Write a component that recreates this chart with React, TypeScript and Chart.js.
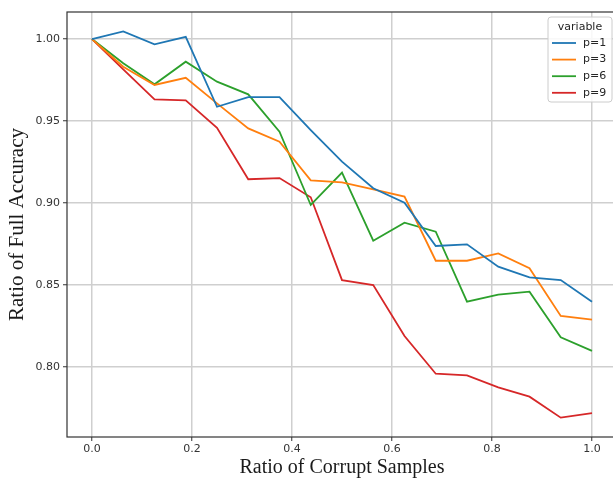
import React, { useEffect, useRef } from "react";
import { Chart, registerables } from "chart.js";

Chart.register(...registerables);

const xValues = [0, 0.0625, 0.125, 0.1875, 0.25, 0.3125, 0.375, 0.4375, 0.5, 0.5625, 0.625, 0.6875, 0.75, 0.8125, 0.875, 0.9375, 1.0];
const p1 = [1.0, 1.0047, 0.9968, 1.0014, 0.9587, 0.9646, 0.9646, 0.9445, 0.9252, 0.909, 0.9002, 0.8738, 0.8748, 0.8612, 0.8547, 0.853, 0.8398];
const p3 = [1.0, 0.9831, 0.972, 0.9764, 0.9608, 0.9455, 0.9374, 0.9138, 0.9126, 0.9083, 0.9039, 0.8648, 0.8648, 0.8693, 0.8602, 0.8311, 0.8289];
const p6 = [1.0, 0.9852, 0.9724, 0.9862, 0.974, 0.9663, 0.9435, 0.8988, 0.9185, 0.877, 0.888, 0.8825, 0.8398, 0.8441, 0.8459, 0.8181, 0.8098];
const p9 = [1.0, 0.9815, 0.9632, 0.9626, 0.9459, 0.9145, 0.9152, 0.9035, 0.853, 0.85, 0.8189, 0.7959, 0.7949, 0.7876, 0.7819, 0.7691, 0.7718];
const seriesLabels = ["p=1", "p=3", "p=6", "p=9"];
const seriesColors = ["#1f77b4", "#ff7f0e", "#2ca02c", "#d62728"];
const xTicks = [0, 0.2, 0.4, 0.6, 0.8, 1.0];
const yTicks = [0.8, 0.85, 0.9, 0.95, 1.0];
const legendTitle = "variable";
const xTitle = "Ratio of Corrupt Samples";
const yTitle = "Ratio of Full Accuracy";

const framePlugin = {
  id: "frame",
  afterDatasetsDraw(chart: any) {
    const { ctx, chartArea } = chart;
    ctx.save();
    ctx.strokeStyle = "#333333";
    ctx.lineWidth = 1.2;
    ctx.strokeRect(chartArea.left, chartArea.top, chartArea.right - chartArea.left, chartArea.bottom - chartArea.top);
    ctx.restore();
  },
};

const legendPlugin = {
  id: "customLegend",
  afterDraw(chart: any) {
    const { ctx } = chart;
    const x0 = 548, y0 = 17, w = 64, h = 85;
    ctx.save();
    ctx.fillStyle = "rgba(255,255,255,0.85)";
    ctx.strokeStyle = "#cccccc";
    ctx.lineWidth = 1;
    ctx.beginPath();
    const r = 3;
    ctx.moveTo(x0 + r, y0);
    ctx.lineTo(x0 + w - r, y0);
    ctx.quadraticCurveTo(x0 + w, y0, x0 + w, y0 + r);
    ctx.lineTo(x0 + w, y0 + h - r);
    ctx.quadraticCurveTo(x0 + w, y0 + h, x0 + w - r, y0 + h);
    ctx.lineTo(x0 + r, y0 + h);
    ctx.quadraticCurveTo(x0, y0 + h, x0, y0 + h - r);
    ctx.lineTo(x0, y0 + r);
    ctx.quadraticCurveTo(x0, y0, x0 + r, y0);
    ctx.closePath();
    ctx.fill();
    ctx.stroke();
    ctx.font = "11px 'DejaVu Sans'";
    ctx.fillStyle = "#262626";
    ctx.textBaseline = "middle";
    ctx.textAlign = "center";
    ctx.fillText(legendTitle, x0 + 32, 27);
    ctx.textAlign = "left";
    chart.data.datasets.forEach((ds: any, i: number) => {
      const y = 43 + i * 16.6;
      ctx.strokeStyle = ds.borderColor;
      ctx.lineWidth = 1.8;
      ctx.beginPath();
      ctx.moveTo(552, y);
      ctx.lineTo(576, y);
      ctx.stroke();
      ctx.fillStyle = "#262626";
      ctx.fillText(ds.label, 583, y);
    });
    ctx.restore();
  },
};

export default function App() {
  const ref = useRef<HTMLCanvasElement | null>(null);
  useEffect(() => {
    const canvas = ref.current!;
    const series = [p1, p3, p6, p9];
    const chart = new Chart(canvas, {
      type: "line",
      data: {
        datasets: series.map((s, i) => ({
          label: seriesLabels[i],
          data: s.map((v, j) => ({ x: xValues[j], y: v })),
          borderColor: seriesColors[i],
          backgroundColor: seriesColors[i],
          borderWidth: 1.8,
          pointRadius: 0,
          tension: 0,
          fill: false,
        })),
      },
      options: {
        responsive: false,
        animation: false,
        devicePixelRatio: 1,
        layout: { padding: { top: 12, left: 0, right: 0, bottom: 0 } },
        plugins: { legend: { display: false }, tooltip: { enabled: false } },
        scales: {
          x: {
            type: "linear",
            min: -0.05,
            max: 1.05,
            afterBuildTicks: (s: any) => {
              s.ticks = xTicks.map((v) => ({ value: v }));
            },
            afterFit: (s: any) => {
              s.height = 43;
            },
            ticks: {
              font: { family: "'DejaVu Sans'", size: 11 },
              color: "#333333",
              padding: 2,
              maxRotation: 0,
              callback: (v: any) => Number(v).toFixed(1),
            },
            grid: { color: "#cfcfcf", lineWidth: 1.5, tickLength: 4, tickColor: "#333333", tickWidth: 1 },
            border: { display: false },
            title: {
              display: true,
              text: xTitle,
              font: { family: "'Liberation Serif'", size: 20 },
              color: "#1a1a1a",
              padding: { top: 0, bottom: 0 },
            },
          },
          y: {
            type: "linear",
            min: 0.7573,
            max: 1.0165,
            afterBuildTicks: (s: any) => {
              s.ticks = yTicks.map((v) => ({ value: v }));
            },
            afterFit: (s: any) => {
              s.width = 67;
            },
            ticks: {
              font: { family: "'DejaVu Sans'", size: 11 },
              color: "#333333",
              padding: 3,
              callback: (v: any) => Number(v).toFixed(2),
            },
            grid: { color: "#cfcfcf", lineWidth: 1.5, tickLength: 4, tickColor: "#333333", tickWidth: 1 },
            border: { display: false },
            title: {
              display: true,
              text: yTitle,
              font: { family: "'Liberation Serif'", size: 21 },
              color: "#1a1a1a",
              padding: { top: 5, bottom: 0 },
            },
          },
        },
      },
      plugins: [framePlugin, legendPlugin],
    });
    return () => chart.destroy();
  }, []);
  return (
    <div style={{ position: "fixed", left: 0, top: 0, width: 613, height: 480, overflow: "hidden", background: "#fff" }}>
      <canvas ref={ref} width={617} height={480} style={{ display: "block", width: 617, height: 480 }} />
    </div>
  );
}
